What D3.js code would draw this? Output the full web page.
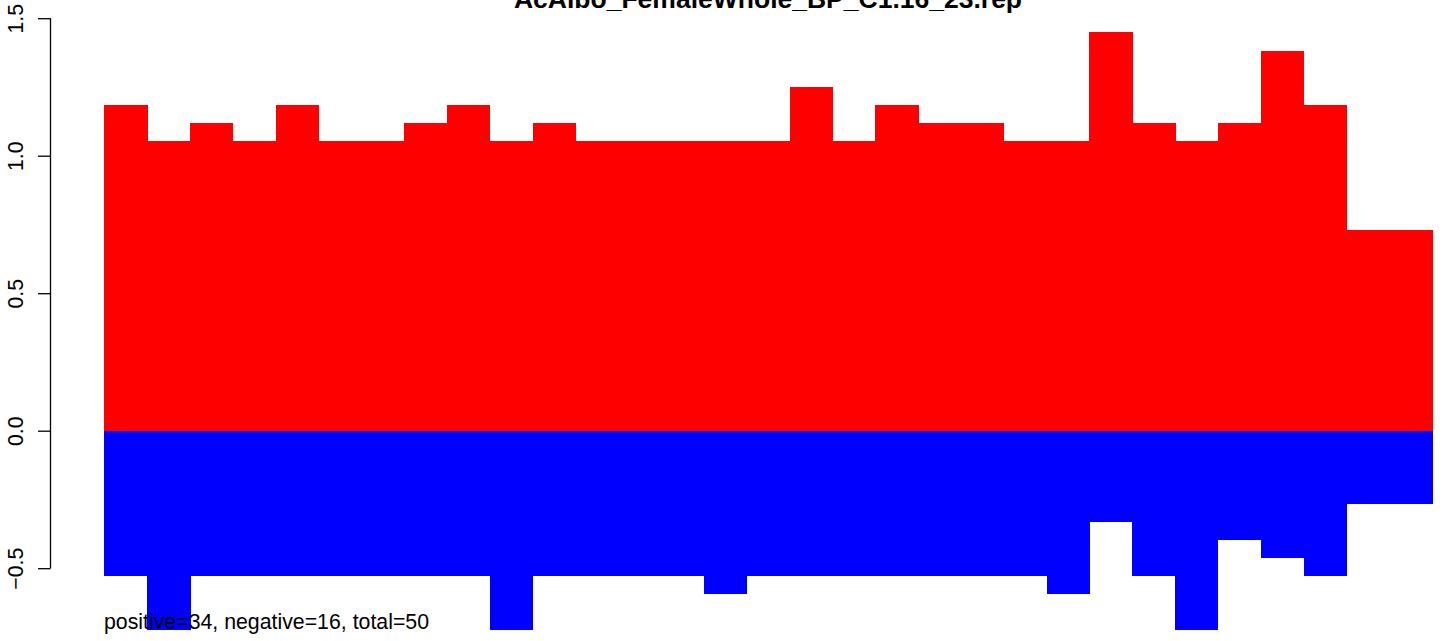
<!DOCTYPE html>
<html>
<head>
<meta charset="utf-8">
<script src="https://cdn.jsdelivr.net/npm/d3@7"></script>
<style>
  html, body { margin: 0; padding: 0; background: #fff; }
  svg { display: block; font-family: "Liberation Sans", Arial, Helvetica, sans-serif; }
</style>
</head>
<body>
<svg id="chart" width="1452" height="641"></svg>
<script>
const titleText = "AcAlbo_FemaleWhole_BP_C1.16_23.rep";
const footerText = "positive=34, negative=16, total=50";
const positiveValues = [1.184, 1.053, 1.119, 1.053, 1.184, 1.053, 1.053, 1.119, 1.184, 1.053,
                        1.119, 1.053, 1.053, 1.053, 1.053, 1.053, 1.25, 1.053, 1.184, 1.119,
                        1.119, 1.053, 1.053, 1.45, 1.119, 1.053, 1.119, 1.38, 1.184, 0.73, 0.73];
const negativeValues = [-0.528, -0.73, -0.528, -0.528, -0.528, -0.528, -0.528, -0.528, -0.528, -0.73,
                        -0.528, -0.528, -0.528, -0.528, -0.594, -0.528, -0.528, -0.528, -0.528, -0.528,
                        -0.528, -0.528, -0.594, -0.332, -0.528, -0.73, -0.397, -0.463, -0.528, -0.266, -0.266];
const yTicks = [-0.5, 0.0, 0.5, 1.0, 1.5];
const yTickLabels = ["\u22120.5", "0.0", "0.5", "1.0", "1.5"];

const svg = d3.select("#chart");
const idx = d3.range(positiveValues.length);

const x = d3.scaleBand().domain(idx).range([104.3, 1432]).padding(0);
const y = d3.scaleLinear().domain([-0.5, 1.5]).range([568.2, 18.2]);

svg.append("defs").append("clipPath").attr("id", "plotclip")
  .append("rect").attr("x", 0).attr("y", 0).attr("width", 1452).attr("height", 630);

const g = svg.append("g").attr("clip-path", "url(#plotclip)")
  .attr("shape-rendering", "crispEdges");

g.selectAll("rect.pos").data(idx).enter().append("rect")
  .attr("class", "pos")
  .attr("x", i => x(i))
  .attr("width", x.bandwidth() + 0.6)
  .attr("y", i => y(positiveValues[i]))
  .attr("height", i => y(0) - y(positiveValues[i]))
  .attr("fill", "#ff0000");

g.selectAll("rect.neg").data(idx).enter().append("rect")
  .attr("class", "neg")
  .attr("x", i => x(i))
  .attr("width", x.bandwidth() + 0.6)
  .attr("y", y(0))
  .attr("height", i => y(negativeValues[i]) - y(0))
  .attr("fill", "#0000ff");

// Y axis (R style: rotated labels)
const axis = d3.axisLeft(y).tickValues(yTicks).tickSize(12.5)
  .tickFormat((d, i) => yTickLabels[i]);
const ax = svg.append("g").attr("transform", "translate(50.5,0)").call(axis);
ax.select(".domain").attr("stroke", "#000").attr("stroke-width", 1.3)
  .attr("d", `M0,${y(-0.5)}V${y(1.5)}`);
ax.selectAll(".tick line").attr("stroke", "#000").attr("stroke-width", 1.3);
ax.selectAll(".tick text")
  .attr("x", null).attr("dy", null)
  .attr("transform", "translate(-28,0) rotate(-90)")
  .attr("text-anchor", "middle")
  .attr("font-size", 21.3)
  .attr("font-family", "Liberation Sans, Arial, sans-serif")
  .attr("fill", "#000");

// Title
svg.append("text")
  .attr("x", 768).attr("y", 8)
  .attr("text-anchor", "middle")
  .attr("font-weight", "bold")
  .attr("font-size", 26.5)
  .attr("fill", "#000")
  .text(titleText);

// Footer
svg.append("text")
  .attr("x", 104).attr("y", 629)
  .attr("font-size", 21.3)
  .attr("fill", "#000")
  .text(footerText);
</script>
</body>
</html>
